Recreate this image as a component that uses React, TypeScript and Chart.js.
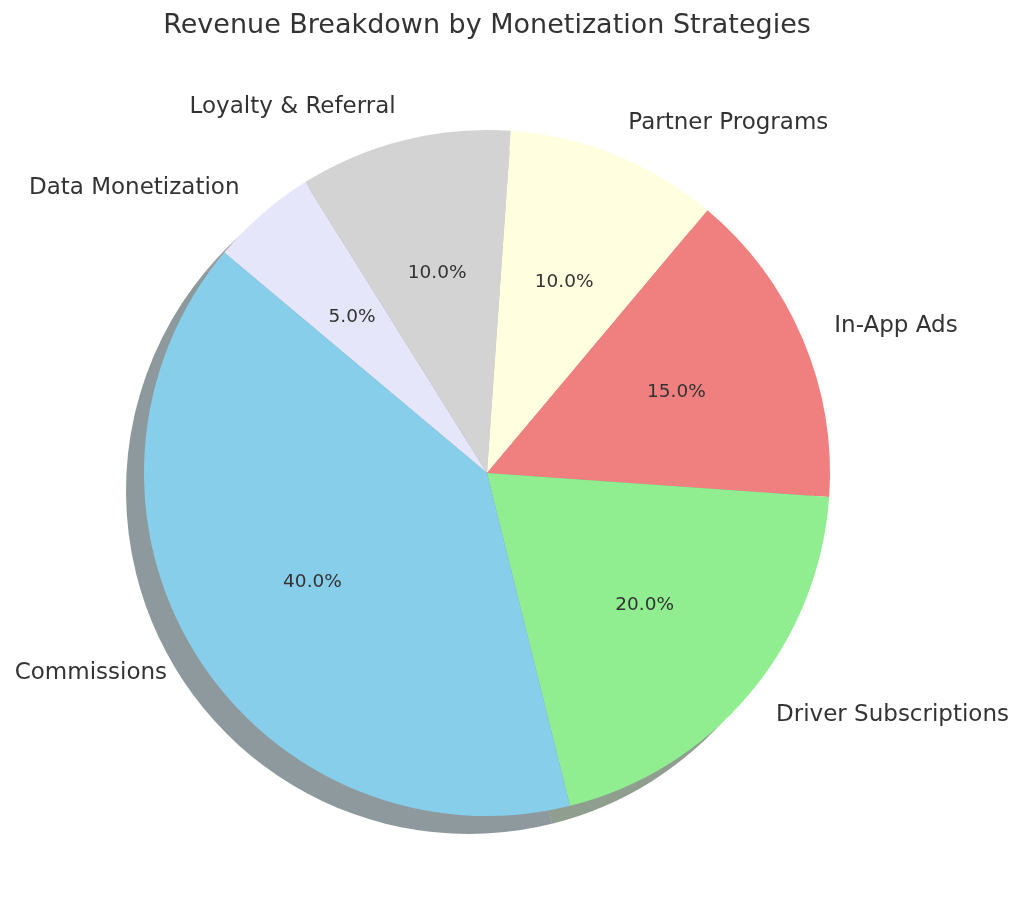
import React, { useEffect, useRef } from "react";
import { Chart, registerables } from "chart.js";

Chart.register(...registerables);

// Drawn clockwise starting from the upper-left boundary (matplotlib ccw order reversed)
const categories = [
  "Data Monetization",
  "Loyalty & Referral",
  "Partner Programs",
  "In-App Ads",
  "Driver Subscriptions",
  "Commissions",
];
const shares = [5, 10, 10, 15, 20, 40];
const colors = ["#E6E6FA", "#D3D3D3", "#FFFFE0", "#F08080", "#90EE90", "#87CEEB"];
const title = "Revenue Breakdown by Monetization Strategies";

const FONT = "'DejaVu Sans', sans-serif";
const TEXT = "#333333";

function hexToRgb(h: string) {
  const n = parseInt(h.slice(1), 16);
  return [(n >> 16) & 255, (n >> 8) & 255, n & 255];
}

const shadowPlugin = {
  id: "pieShadow",
  beforeDatasetsDraw(chart: any) {
    const ctx = chart.ctx;
    const meta = chart.getDatasetMeta(0);
    const ox = -18, oy = 18;
    meta.data.forEach((arc: any, i: number) => {
      const { x, y, startAngle, endAngle, outerRadius } = arc.getProps(
        ["x", "y", "startAngle", "endAngle", "outerRadius"], true);
      const [r, g, b] = hexToRgb(colors[i]);
      ctx.save();
      ctx.beginPath();
      ctx.moveTo(x + ox, y + oy);
      ctx.arc(x + ox, y + oy, outerRadius, startAngle, endAngle);
      ctx.closePath();
      ctx.fillStyle = `rgba(${Math.round(r * 0.3)},${Math.round(g * 0.3)},${Math.round(b * 0.3)},0.53)`;
      ctx.fill();
      ctx.restore();
    });
  },
};

const labelPlugin = {
  id: "pieLabels",
  afterDatasetsDraw(chart: any) {
    const ctx = chart.ctx;
    const meta = chart.getDatasetMeta(0);
    const total = shares.reduce((a, b) => a + b, 0);
    meta.data.forEach((arc: any, i: number) => {
      const { x, y, startAngle, endAngle, outerRadius } = arc.getProps(
        ["x", "y", "startAngle", "endAngle", "outerRadius"], true);
      const mid = (startAngle + endAngle) / 2;
      const c = Math.cos(mid), s = Math.sin(mid);
      ctx.save();
      ctx.fillStyle = TEXT;
      ctx.textBaseline = "middle";
      ctx.font = `23px ${FONT}`;
      ctx.textAlign = c > 0 ? "left" : "right";
      ctx.fillText(categories[i], x + 1.1 * outerRadius * c, y + 1.1 * outerRadius * s);
      ctx.font = `18.5px ${FONT}`;
      ctx.textAlign = "center";
      const pct = ((shares[i] / total) * 100).toFixed(1) + "%";
      ctx.fillText(pct, x + 0.6 * outerRadius * c, y + 0.6 * outerRadius * s);
      ctx.restore();
    });
    ctx.save();
    ctx.fillStyle = TEXT;
    ctx.font = `27px ${FONT}`;
    ctx.textAlign = "center";
    ctx.textBaseline = "middle";
    ctx.fillText(title, 487, 26);
    ctx.restore();
  },
};

export default function App() {
  const ref = useRef<HTMLCanvasElement>(null);
  useEffect(() => {
    const chart = new Chart(ref.current!, {
      type: "pie",
      data: {
        labels: categories,
        datasets: [{ data: shares, backgroundColor: colors, borderWidth: 0 }],
      },
      options: {
        responsive: false,
        animation: false,
        rotation: -50,
        layout: { padding: { left: 144, right: 194, top: 130, bottom: 100 } },
        plugins: { legend: { display: false }, tooltip: { enabled: false }, title: { display: false } },
      },
      plugins: [shadowPlugin, labelPlugin],
    });
    return () => chart.destroy();
  }, []);
  return (
    <div style={{ position: "absolute", left: 0, top: 0, width: 1024, height: 916, background: "#fff" }}>
      <canvas ref={ref} width={1024} height={916} style={{ width: 1024, height: 916 }} />
    </div>
  );
}
